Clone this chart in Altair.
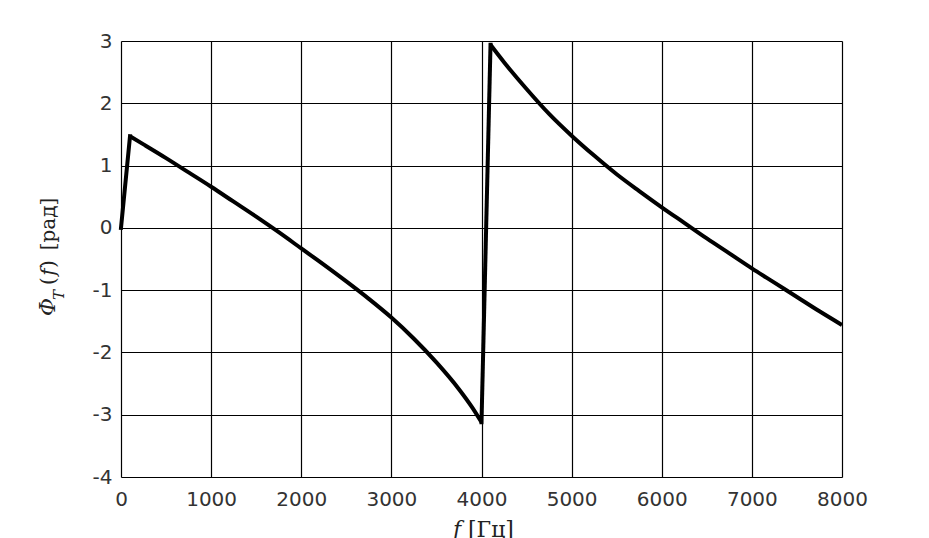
import altair as alt
import pandas as pd

freq = [0, 100, 250, 500, 750, 1000, 1250, 1500, 1750, 2000, 2250, 2500, 2750, 3000, 3250,
        3500, 3750, 3900, 4000,
        4100, 4250, 4500, 4750, 5000, 5250, 5500, 5750, 6000, 6250, 6500, 6750, 7000, 7250,
        7500, 7750, 8000]
phase = [0.0, 1.47, 1.34, 1.12, 0.89, 0.66, 0.42, 0.18, -0.07, -0.33, -0.59, -0.86, -1.14, -1.44, -1.78,
         -2.16, -2.59, -2.89, -3.12,
         2.94, 2.66, 2.23, 1.83, 1.48, 1.16, 0.86, 0.59, 0.33, 0.08, -0.17, -0.41, -0.65, -0.88,
         -1.11, -1.34, -1.56]

x_ticks = [0, 1000, 2000, 3000, 4000, 5000, 6000, 7000, 8000]
y_ticks = [-4, -3, -2, -1, 0, 1, 2, 3]

df = pd.DataFrame({"f": freq, "phi": phase, "order": list(range(len(freq)))})
i_top1 = freq.index(100)
i_bot = freq.index(4000)
i_top2 = freq.index(4100)

# straight jumps and smooth branches
jumps = pd.concat([df.iloc[0:i_top1 + 1].assign(seg="a"),
                   df.iloc[i_bot:i_top2 + 1].assign(seg="c")])
branches = pd.concat([df.iloc[i_top1:i_bot + 1].assign(seg="b"),
                      df.iloc[i_top2:].assign(seg="d")])

W, H = 721, 436

xenc = alt.X("f:Q", scale=alt.Scale(domain=[0, 8000], nice=False),
             axis=alt.Axis(values=x_ticks, title=None, grid=True, ticks=False, domain=False,
                           labelFont="DejaVu Sans", labelFontSize=20, labelColor="#333",
                           labelPadding=12, gridColor="black", gridOpacity=1, gridWidth=1.2,
                           labelFlush=False, labelExpr="'' + datum.value"))
yenc = alt.Y("phi:Q", scale=alt.Scale(domain=[-4, 3], nice=False),
             axis=alt.Axis(values=y_ticks, title=None, grid=True, ticks=False, domain=False,
                           labelFont="DejaVu Sans", labelFontSize=20, labelColor="#333",
                           labelPadding=9, gridColor="black", gridOpacity=1, gridWidth=1.2,
                           labelExpr="'' + datum.value"))

line_jumps = alt.Chart(jumps).mark_line(color="black", strokeWidth=4, strokeJoin="miter",
                                        strokeCap="square").encode(
    x=xenc, y=yenc, detail="seg:N", order="order:Q")
line_branches = alt.Chart(branches).mark_line(color="black", strokeWidth=4,
                                              interpolate="monotone").encode(
    x=xenc, y=yenc, detail="seg:N", order="order:Q")

def txt(s, x, y, size=20, style="normal", angle=0, align="center", baseline="alphabetic"):
    d = pd.DataFrame({"t": [s]})
    return alt.Chart(d).mark_text(font="DejaVu Serif", fontSize=size, fontStyle=style,
                                  angle=angle, align=align, baseline=baseline,
                                  color="#222").encode(
        text="t:N", x=alt.value(x), y=alt.value(y))

labels = [
    txt("Φ", -66, 266, size=22, style="italic", angle=270),
    txt("T", -57, 254, size=15, style="italic", angle=270),
    txt("(", -66, 240, size=20, angle=270),
    txt("f", -66, 231, size=20, style="italic", angle=270),
    txt(")", -66, 223, size=20, angle=270),
    txt("[рад]", -66, 183, size=20, angle=270),
    txt("f", 336, 496, size=22, style="italic"),
    txt("[Гц]", 347, 496, size=22, align="left"),
]

chart = alt.layer(line_branches, line_jumps, *labels).properties(
    width=W, height=H,
    autosize=alt.AutoSizeParams(type="none"),
    padding={"left": 113, "top": 33, "right": 79, "bottom": 70},
).configure_view(stroke="black", strokeWidth=1.2).configure(background="white")

chart.save("out.html", embed_options={"renderer": "svg", "actions": False})
